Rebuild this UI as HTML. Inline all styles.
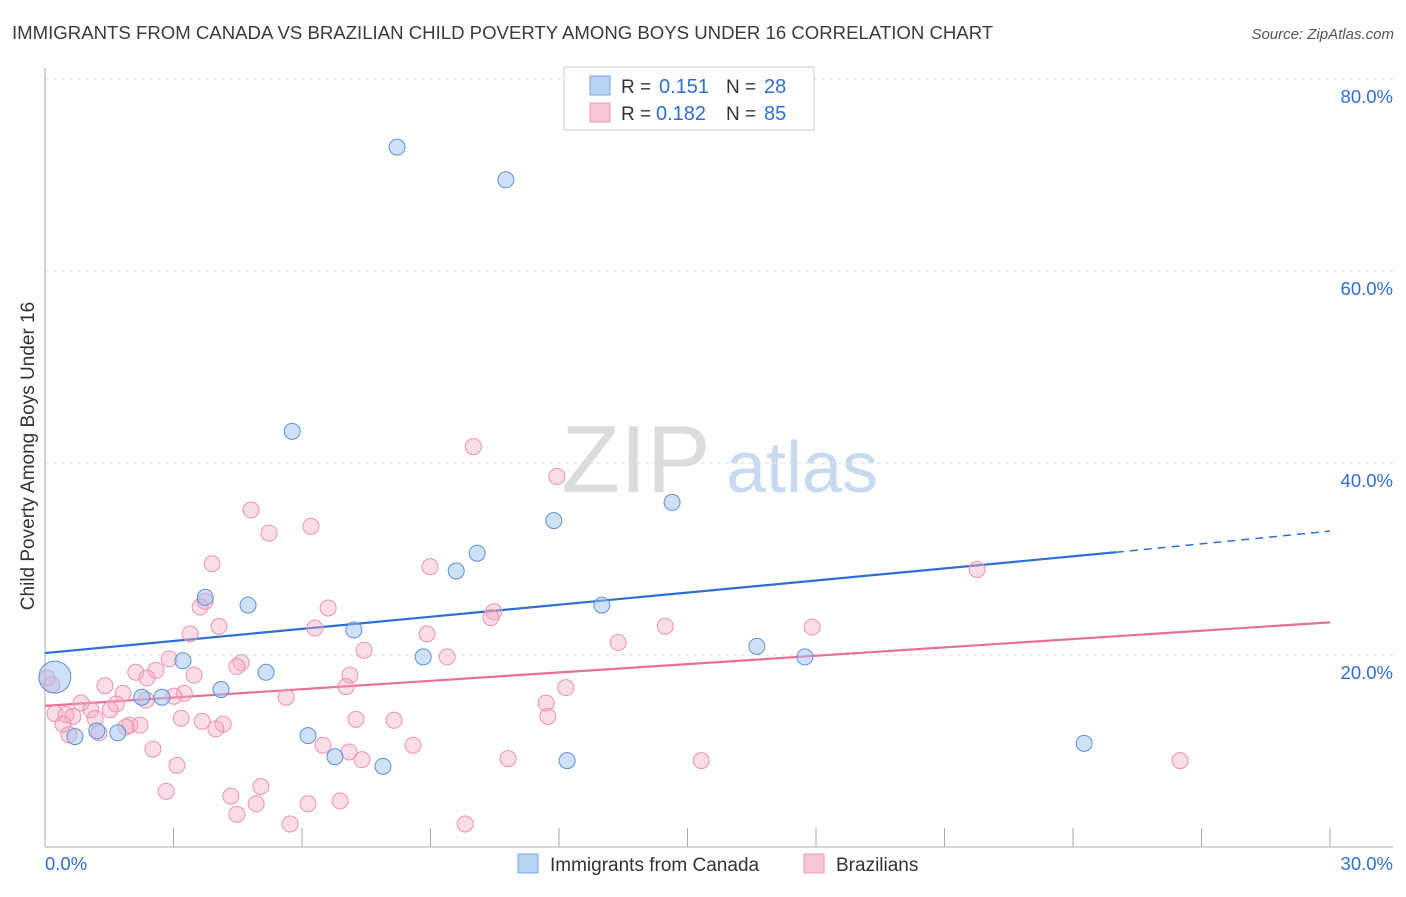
<!DOCTYPE html>
<html><head><meta charset="utf-8">
<style>
body{margin:0;background:#fff;font-family:"Liberation Sans",sans-serif;}
svg text{font-family:"Liberation Sans",sans-serif;}
</style></head>
<body>
<svg id="chart" width="1406" height="892" xmlns="http://www.w3.org/2000/svg">
<text x="12" y="39" font-size="18.6" fill="#3a3a3a">IMMIGRANTS FROM CANADA VS BRAZILIAN CHILD POVERTY AMONG BOYS UNDER 16 CORRELATION CHART</text>
<text x="1394" y="39" font-size="15" fill="#555" text-anchor="end" font-style="italic">Source: ZipAtlas.com</text>
<g>
<text x="636" y="492" font-size="96" fill="#dcdcdc" font-family="Liberation Serif, serif" text-anchor="middle">ZIP</text>
<text x="802" y="492" font-size="72" fill="#c8daf0" text-anchor="middle">atlas</text>
</g>
<g id="grid"></g>
<g id="axes"></g>
<line id="tb" stroke="#2d6fd6" stroke-width="2.2"/>
<line id="tbd" stroke="#2d6fd6" stroke-width="1.5" stroke-dasharray="8,6"/>
<line id="tp" stroke="#e86f98" stroke-width="2.2"/>
<g id="pts"></g>
<text transform="translate(34,456) rotate(-90)" font-size="19" fill="#333" text-anchor="middle">Child Poverty Among Boys Under 16</text>
<g>
<rect x="564" y="67" width="250" height="63" fill="#fff" stroke="#ccc"/>
<rect x="590" y="76" width="20" height="19" fill="#b9d3f5" stroke="#7aa6e4"/>
<text x="621" y="93" font-size="19" fill="#333">R =</text>
<text x="659" y="93" font-size="20" fill="#2d6fd6">0.151</text>
<text x="726" y="93" font-size="19" fill="#333">N =</text>
<text x="764" y="93" font-size="20" fill="#2d6fd6">28</text>
<rect x="590" y="103" width="20" height="19" fill="#f8c6d6" stroke="#ec9ab5"/>
<text x="621" y="120" font-size="19" fill="#333">R =</text>
<text x="656" y="120" font-size="20" fill="#2d6fd6">0.182</text>
<text x="726" y="120" font-size="19" fill="#333">N =</text>
<text x="764" y="120" font-size="20" fill="#2d6fd6">85</text>
</g>
<g>
<rect x="518" y="854" width="20" height="19" fill="#b9d3f5" stroke="#7aa6e4"/>
<text x="550" y="871" font-size="19" fill="#333">Immigrants from Canada</text>
<rect x="804" y="854" width="20" height="19" fill="#f8c6d6" stroke="#ec9ab5"/>
<text x="836" y="871" font-size="19" fill="#333">Brazilians</text>
</g>
</svg>
<script>
const blueX=[8.22,10.76,5.77,14.64,11.88,10.09,9.60,3.74,4.74,13.0,7.21,16.62,17.74,8.83,3.22,5.16,0.23,4.11,2.26,2.73,6.14,0.70,1.21,1.70,6.77,7.89,12.19,24.26];
const blueY=[72.9,69.5,43.3,35.9,34.0,30.6,28.75,26.0,25.2,25.2,22.6,20.9,19.8,19.8,19.4,18.2,17.7,16.4,15.6,15.6,11.6,11.5,12.1,11.9,9.4,8.4,9.0,10.8];
const pinkX=[10.0,11.95,4.81,5.23,6.21,3.90,8.99,21.76,3.74,3.62,6.61,10.48,10.41,4.06,6.30,14.48,17.91,3.39,8.92,13.38,7.45,9.39,2.90,4.58,4.48,2.59,2.12,3.48,7.12,2.38,7.03,12.16,0.16,1.40,1.82,3.25,3.01,5.63,2.36,0.84,1.66,11.70,1.07,1.52,0.23,0.49,0.65,11.74,3.18,3.67,7.26,8.15,1.17,1.98,0.42,4.16,2.22,1.89,3.99,1.26,0.56,2.52,6.49,8.59,7.10,7.40,10.81,15.32,26.50,3.08,5.04,2.83,4.34,4.93,6.14,6.89,4.48,5.72,9.81,0.05];
const pinkY=[41.7,38.6,35.1,32.7,33.4,29.5,29.2,28.9,25.6,25.0,24.9,24.5,23.9,23.0,22.8,23.0,22.9,22.2,22.2,21.3,20.5,19.8,19.6,19.2,18.8,18.4,18.2,17.9,17.9,17.6,16.7,16.6,16.9,16.8,16.0,16.0,15.7,15.6,15.3,15.0,14.9,15.0,14.3,14.3,13.9,13.8,13.6,13.6,13.4,13.1,13.3,13.2,13.4,12.7,12.8,12.8,12.7,12.5,12.3,11.9,11.7,10.2,10.6,10.6,9.9,9.1,9.2,9.0,9.0,8.5,6.3,5.8,5.3,4.5,4.5,4.8,3.4,2.4,2.4,17.6];
const yTicks=[20,40,60,80];
const xTickLabels=["0.0%","30.0%"];
const blueTrend=[20.2,30.7,32.9]; // at x=0, 25, 30
const pinkTrend=[14.7,23.4];     // at x=0, 30
const NS="http://www.w3.org/2000/svg";
const X=v=>45+v*(1285/30), Y=v=>847-v*9.6;
function mk(t,a,p){const e=document.createElementNS(NS,t);for(const k in a)e.setAttribute(k,a[k]);p.appendChild(e);return e;}
const grid=document.getElementById('grid'),axes=document.getElementById('axes'),pts=document.getElementById('pts');
yTicks.forEach(t=>{
 const l=mk('line',{x1:45,x2:1393,y1:Y(t),y2:Y(t),stroke:'#ddd','stroke-dasharray':'4,4'},grid);
 
 
 const tx=mk('text',{x:1393,y:Y(t)+24,'font-size':18.5,fill:'#2d6fd6','text-anchor':'end'},grid);
 tx.textContent=t.toFixed(1)+'%';
 
 
});
const ax=mk('line',{x1:45,x2:1393,y1:847,y2:847,stroke:'#aaa'},axes);


const ay=mk('line',{x1:45,x2:45,y1:68,y2:847,stroke:'#aaa'},axes);


for(let i=0;i<=10;i++){const t=mk('line',{x1:X(i*3),x2:X(i*3),y1:828,y2:847,stroke:'#aaa'},axes);
 
 }
[[0,'start',45],[30,'end',1393]].forEach((d,i)=>{const t=mk('text',{x:d[2],y:870,'font-size':18.5,fill:'#2d6fd6','text-anchor':d[1]},axes);t.textContent=xTickLabels[i];
 
 });
const tb=document.getElementById('tb');tb.setAttribute('x1',X(0));tb.setAttribute('y1',Y(blueTrend[0]));tb.setAttribute('x2',X(25));tb.setAttribute('y2',Y(blueTrend[1]));
const tbd=document.getElementById('tbd');tbd.setAttribute('x1',X(25));tbd.setAttribute('y1',Y(blueTrend[1]));tbd.setAttribute('x2',X(30));tbd.setAttribute('y2',Y(blueTrend[2]));
const tp=document.getElementById('tp');tp.setAttribute('x1',X(0));tp.setAttribute('y1',Y(pinkTrend[0]));tp.setAttribute('x2',X(30));tp.setAttribute('y2',Y(pinkTrend[1]));
pinkX.forEach((v,i)=>{const c=mk('circle',{cx:X(v),cy:Y(pinkY[i]),r:8,fill:'rgba(245,170,195,0.4)',stroke:'#ea93b1','stroke-width':1},pts);
 
 });
blueX.forEach((v,i)=>{const c=mk('circle',{cx:X(v),cy:Y(blueY[i]),r:i==16?16:8,fill:'rgba(160,195,240,0.5)',stroke:'#5f8fd6','stroke-width':1},pts);
 
 });
</script>
</body></html>
